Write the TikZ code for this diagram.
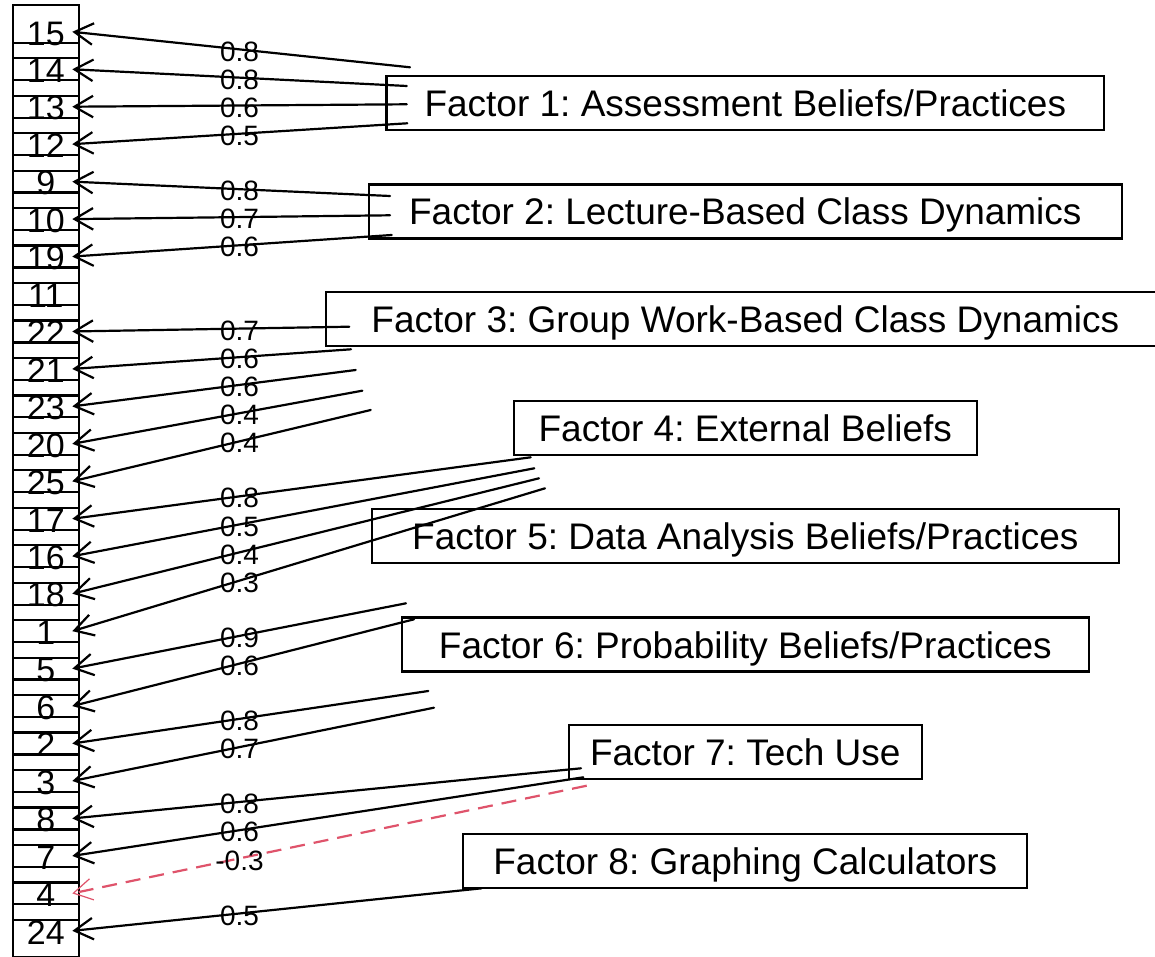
\documentclass[tikz,border=0pt]{standalone}
\usepackage{fontspec}
\setmainfont{Liberation Sans}
\usetikzlibrary{arrows.meta}
\definecolor{rred}{HTML}{DF536B}
\frenchspacing
\newcommand\ld[6][]{%
  \coordinate (#2) at (#3,#4);
  \pgfmathsetmacro\lpos{(#3-239.5)/(#3-72.3)}
  \draw[arr,#1] (#2) -- node[lbl,pos=\lpos]{#6} ([xshift=-6.7pt]#5.east);
}
\begin{document}
\begin{tikzpicture}[x=1pt,y=-1pt,
  item/.style={draw, line width=2.2pt, minimum width=66.3pt, minimum height=53pt,
    inner sep=0pt, outer sep=0pt, font=\fontsize{34}{34}\selectfont,
    text height=26.5pt, text depth=0pt},
  fac/.style={draw, line width=2.2pt, minimum height=54pt, inner sep=0pt, outer sep=0pt,
    font=\fontsize{37}{37}\selectfont\frenchspacing, text height=27pt, text depth=0pt},
  lbl/.style={font=\fontsize{28}{28}\selectfont, inner sep=0pt, yshift=-2pt, text=black},
  arr/.style={line width=2.2pt, line cap=round, draw=black,
    -{Straight Barb[length=18.6pt,width=21.5pt]}},
  neg/.style={draw=rred, line cap=butt, dash pattern=on 15pt off 9pt,
    -{Straight Barb[length=18.6pt,width=21.5pt,line width=1.2pt]}}
]
\fill[white] (0,0) rectangle (1155,957);
\clip (0,0) rectangle (1155,957);

% items
\foreach \n [count=\k from 0] in {15,14,13,12,9,10,19,11,22,21,23,20,25,17,16,18,1,5,6,2,3,8,7,4,24}
  \node[item] (i\n) at (45.85,{31.8+\k*37.46}) {\n};

% factors
\node[fac, minimum width=717.6pt] (f1) at (745.3,103) {Factor 1: Assessment Beliefs/Practices};
\node[fac, minimum width=753.4pt] (f2) at (745.3,211.5) {Factor 2: Lecture-Based Class Dynamics};
\node[fac, minimum width=838.6pt] (f3) at (745.3,319.3) {Factor 3: Group Work-Based Class Dynamics};
\node[fac, minimum width=463.4pt] (f4) at (745.3,428) {Factor 4: External Beliefs};
\node[fac, minimum width=746.6pt] (f5) at (745.3,536) {Factor 5: Data Analysis Beliefs/Practices};
\node[fac, minimum width=686.6pt] (f6) at (745.3,644.5) {Factor 6: Probability Beliefs/Practices};
\node[fac, minimum width=352.7pt] (f7) at (745.3,752.3) {Factor 7: Tech Use};
\node[fac, minimum width=564pt] (f8) at (745.3,861) {Factor 8: Graphing Calculators};

% loadings
\ld{s15}{410}{67.3}{i15}{0.8}
\ld{s14}{406.7}{86}{i14}{0.8}
\ld{s13}{406.7}{104.3}{i13}{0.6}
\ld{s12}{407.3}{123.3}{i12}{0.5}
\ld{s9}{390}{196}{i9}{0.8}
\ld{s10}{390}{215.3}{i10}{0.7}
\ld{s19}{391.7}{235}{i19}{0.6}
\ld{s22}{349.3}{326.7}{i22}{0.7}
\ld{s21}{351}{349.3}{i21}{0.6}
\ld{s23}{355.7}{370}{i23}{0.6}
\ld{s20}{362.3}{390.7}{i20}{0.4}
\ld{s25}{370.7}{410}{i25}{0.4}
\ld{s17}{530.7}{457.3}{i17}{0.8}
\ld{s16}{534.3}{468.3}{i16}{0.5}
\ld{s18}{539}{478.3}{i18}{0.4}
\ld{s1}{545}{488.3}{i1}{0.3}
\ld{s5}{406}{603.3}{i5}{0.9}
\ld{s6}{414}{619.3}{i6}{0.6}
\ld{s2}{428.3}{691}{i2}{0.8}
\ld{s3}{434}{707.7}{i3}{0.7}
\ld{s8}{581}{768.3}{i8}{0.8}
\ld{s7}{583.3}{777.3}{i7}{0.6}
\ld[neg]{s4}{586.7}{785.7}{i4}{-0.3}
\ld{s24}{481.7}{888.3}{i24}{0.5}
\end{tikzpicture}
\end{document}
